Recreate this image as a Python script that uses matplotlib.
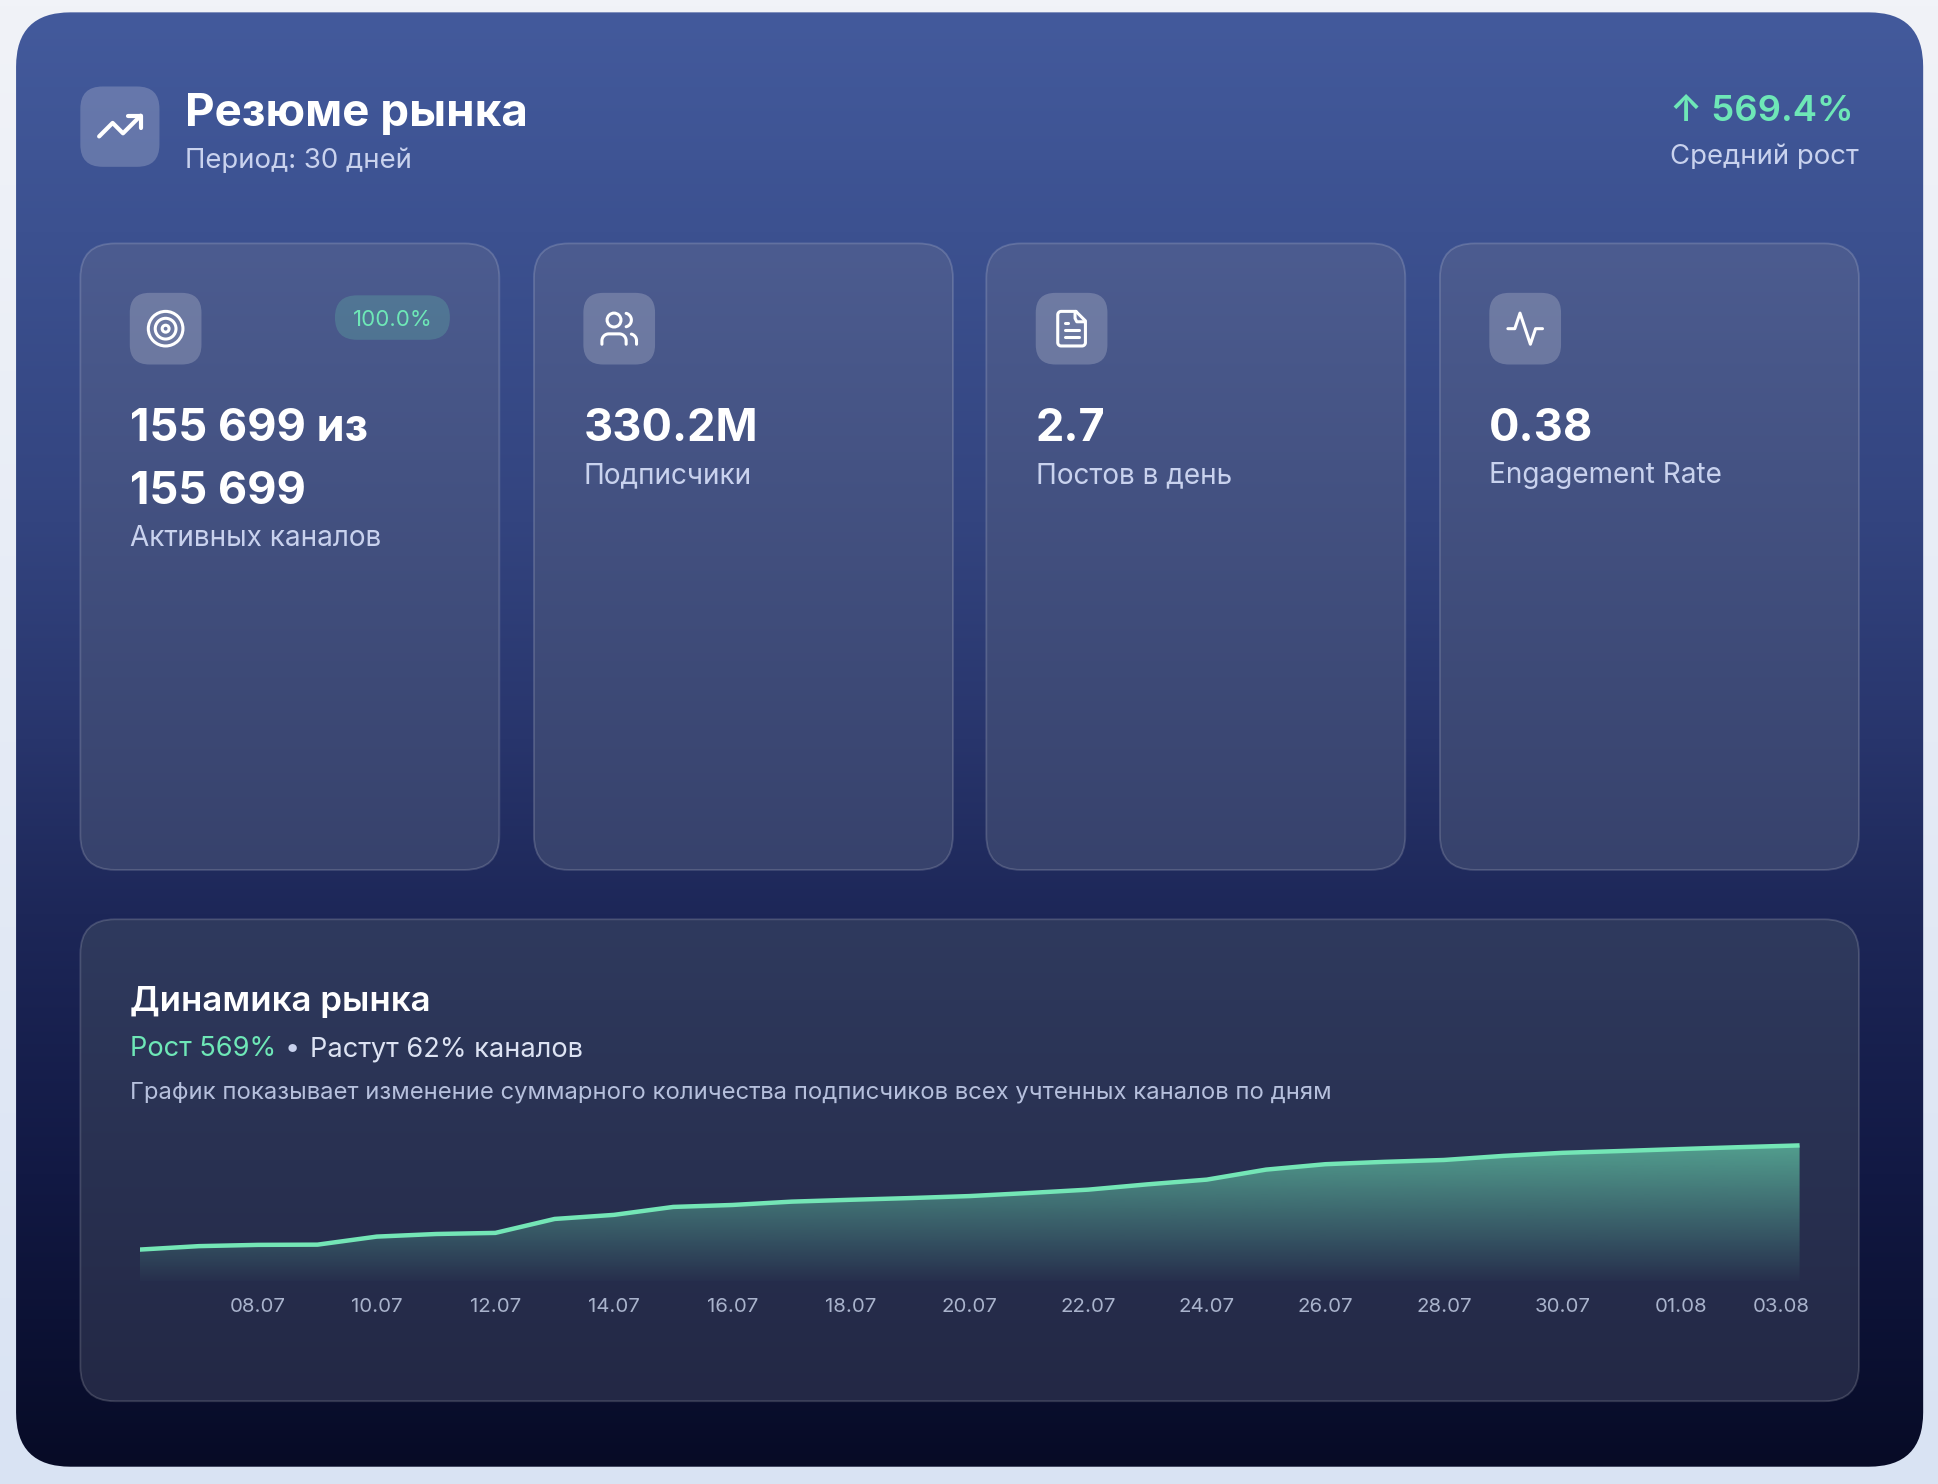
import numpy as np
import matplotlib.pyplot as plt
import matplotlib.colors as mcolors
from matplotlib.patches import FancyBboxPatch, Circle
from matplotlib.transforms import ScaledTranslation

plt.rcParams['font.family'] = ['Inter', 'DejaVu Sans']

# ---- data ----
days = ['06.07', '07.07', '08.07', '09.07', '10.07', '11.07', '12.07', '13.07',
        '14.07', '15.07', '16.07', '17.07', '18.07', '19.07', '20.07', '21.07',
        '22.07', '23.07', '24.07', '25.07', '26.07', '27.07', '28.07', '29.07',
        '30.07', '31.07', '01.08', '02.08', '03.08']
# total subscribers, millions (estimated from the curve)
subscribers_m = [49.3, 58.6, 62.0, 62.6, 84.3, 91.3, 94.3, 131.9, 142.9, 164.3,
                 169.6, 178.6, 183.6, 188.2, 193.6, 201.9, 210.9, 225.2, 237.9,
                 264.9, 279.5, 285.9, 290.9, 301.9, 310.2, 315.2, 320.5, 325.5, 330.2]
tick_days = ['08.07', '10.07', '12.07', '14.07', '16.07', '18.07', '20.07',
             '22.07', '24.07', '26.07', '28.07', '30.07', '01.08', '03.08']

card_values = [['155 699 из', '155 699'], ['330.2M'], ['2.7'], ['0.38']]
card_labels = ['Активных каналов', 'Подписчики', 'Постов в день', 'Engagement Rate']
card_icons = ['target', 'users', 'file', 'activity']
active_share = '100.0%'
avg_growth = '569.4%'
period_days = 30
growth_pct = 569
growing_share = 62

# ---- canvas in reference display units ----
W, H = 1568, 1201
PT = 1.236 * 0.72  # points per display unit

fig = plt.figure(figsize=(19.38, 14.84), dpi=100)
ax = fig.add_axes([0, 0, 1, 1])
ax.axis('off')

GREEN = '#6ee7b7'
LIGHT = '#c9d2ee'


def grad_img(stops, n=256):
    pos = [s[0] for s in stops]
    cols = np.array([mcolors.to_rgba(s[1]) for s in stops])
    t = np.linspace(0, 1, n)
    rgba = np.stack([np.interp(t, pos, cols[:, k]) for k in range(4)], axis=1)
    return rgba[:, None, :]


def rbox(x0, y0, x1, y1, r, **kw):
    p = FancyBboxPatch((x0, y0), x1 - x0, y1 - y0,
                       boxstyle=f'round,pad=0,rounding_size={r}', **kw)
    ax.add_patch(p)
    return p


def grad_box(x0, y0, x1, y1, r, stops, z, edge=None):
    clip = rbox(x0, y0, x1, y1, r, fc='none', ec='none', zorder=z)
    im = ax.imshow(grad_img(stops), extent=(x0, x1, y1, y0), origin='upper',
                   aspect='auto', interpolation='bilinear', zorder=z)
    im.set_clip_path(clip)
    if edge is not None:
        rbox(x0, y0, x1, y1, r, fc='none', ec=edge, lw=1.3, zorder=z + 0.1)


def arc(cx, cy, r, a0, a1, n=30):
    a = np.radians(np.linspace(a0, a1, n))
    return list(zip(cx + r * np.cos(a), cy + r * np.sin(a)))


def stroke(pts, cx, cy, u, lw, z=6):
    p = np.array(pts)
    ax.plot(cx + (p[:, 0] - 12) * u, cy + (p[:, 1] - 12) * u, color='white',
            lw=lw, solid_capstyle='round', solid_joinstyle='round', zorder=z)


def ring(px, py, r, cx, cy, u, lw):
    ax.add_patch(Circle((cx + (px - 12) * u, cy + (py - 12) * u), r * u, fc='none',
                        ec='white', lw=lw, zorder=6))


def draw_icon(kind, cx, cy, u=1.4, lw=2.2):
    if kind == 'target':
        for r in (10, 6, 2):
            ring(12, 12, r, cx, cy, u, lw)
    elif kind == 'users':
        ring(9, 7, 4, cx, cy, u, lw)
        stroke([(16, 21)] + arc(12, 19, 4, 0, -90) + arc(6, 19, 4, -90, -180) + [(2, 21)],
               cx, cy, u, lw)
        stroke([(22, 21)] + arc(18, 19, 4, 0, -75.5), cx, cy, u, lw)
        stroke(arc(15.01, 7.0, 4, -75.7, 75.7), cx, cy, u, lw)
    elif kind == 'file':
        stroke([(14.5, 2)] + arc(6, 4, 2, -90, -180) + arc(6, 20, 2, 180, 90)
               + arc(18, 20, 2, 90, 0) + [(20, 7.5), (14.5, 2)], cx, cy, u, lw)
        stroke([(14, 2.5), (14, 6), (15, 8), (19.5, 8)], cx, cy, u, lw)
        stroke([(8, 9), (10, 9)], cx, cy, u, lw)
        stroke([(8, 13), (16, 13)], cx, cy, u, lw)
        stroke([(8, 17), (16, 17)], cx, cy, u, lw)
    elif kind == 'activity':
        stroke([(2, 12), (6, 12), (9, 3), (15, 21), (18, 12), (22, 12)], cx, cy, u, lw)
    elif kind == 'trend':
        stroke([(2, 17), (8.5, 10.5), (13.5, 15.5), (22, 7)], cx, cy, u, lw)
        stroke([(16, 7), (22, 7), (22, 13)], cx, cy, u, lw)


# page background
bg = ax.imshow(grad_img([(0, '#f1f3f8'), (1, '#d9e3f3')]), extent=(0, W, H, 0),
               origin='upper', aspect='auto', zorder=0)

# main panel
grad_box(13, 10, 1556, 1187, 44,
         [(0, '#435a9c'), (0.15, '#3c5190'), (0.35, '#33447f'), (0.5, '#28356c'),
          (0.62, '#1d2758'), (0.8, '#121944'), (1, '#070b26')], 1)

# header
rbox(65, 70, 129, 135, 18, fc=(1, 1, 1, 0.2), ec='none', zorder=3)
draw_icon('trend', 97, 102, u=1.68, lw=3.0)
ax.text(150, 102, 'Резюме рынка', color='white', fontsize=37 * PT,
        fontweight='bold', va='baseline', zorder=5)
ax.text(150, 136, f'Период: {period_days} дней', color=LIGHT, fontsize=22.3 * PT,
        va='baseline', zorder=5)
ax.text(1500, 98, '↑ ' + avg_growth, color=GREEN, fontsize=29.5 * PT,
        fontweight='semibold', va='baseline', ha='right', zorder=5)
ax.text(1504, 133, 'Средний рост', color=LIGHT, fontsize=22.3 * PT,
        va='baseline', ha='right', zorder=5)

# KPI cards
card_x = [65, 432, 798, 1165]
card_w = 339
for i, x0 in enumerate(card_x):
    grad_box(x0, 197, x0 + card_w, 704, 28,
             [(0, '#4c5c90'), (1, '#37426c')], 2, edge=(1, 1, 1, 0.16))
    rbox(x0 + 40, 237, x0 + 98, 295, 16, fc=(1, 1, 1, 0.2), ec='none', zorder=4)
    draw_icon(card_icons[i], x0 + 69, 266)
    lines = card_values[i]
    for j, s in enumerate(lines):
        ax.text(x0 + 40, 357 + 51 * j, s, color='white', fontsize=36.5 * PT,
                fontweight='bold', va='baseline', zorder=5)
    ax.text(x0 + 40, 391 + 51 * (len(lines) - 1), card_labels[i], color=LIGHT,
            fontsize=22.6 * PT, va='baseline', zorder=5)

# badge on first card
rbox(271, 239, 364, 275, 18, fc=mcolors.to_rgba(GREEN, 0.2), ec='none', zorder=4)
ax.text(317.5, 264, active_share, color=GREEN, fontsize=18 * PT,
        va='baseline', ha='center', zorder=5)

# chart card
grad_box(65, 744, 1504, 1134, 28, [(0, '#2f3a5e'), (1, '#232845')], 2,
         edge=(1, 1, 1, 0.16))
ax.text(105, 818, 'Динамика рынка', color='white', fontsize=28.2 * PT,
        fontweight='semibold', va='baseline', zorder=5)

ren = fig.canvas.get_renderer()
ax.set_xlim(0, W)
ax.set_ylim(H, 0)
t1 = ax.text(105, 855, f'Рост {growth_pct}%', color=GREEN, fontsize=22 * PT,
             va='baseline', zorder=5)
bb = t1.get_window_extent(renderer=ren)
x_end = ax.transData.inverted().transform((bb.x1, bb.y0))[0]
t2 = ax.text(x_end + 7, 855, '•', color=LIGHT, fontsize=22 * PT, va='baseline', zorder=5)
bb = t2.get_window_extent(renderer=ren)
x_end = ax.transData.inverted().transform((bb.x1, bb.y0))[0]
ax.text(x_end + 8, 855, f'Растут {growing_share}% каналов', color='#dde3f3',
        fontsize=22 * PT, va='baseline', zorder=5)
ax.text(105, 889, 'График показывает изменение суммарного количества подписчиков '
        'всех учтенных каналов по дням', color='#b6c0dd', fontsize=19.3 * PT,
        va='baseline', zorder=5)

ax.set_xlim(0, W)
ax.set_ylim(H, 0)

# area chart
x = np.arange(len(days))
v = np.array(subscribers_m)
span = v.max() - v.min()
ylo, yhi = v.min() - 0.305 * span, v.max() + 0.142 * span

cl, cr, cb, ct = 113, 1456, 1037, 915
axc = fig.add_axes([cl / W, 1 - cb / H, (cr - cl) / W, (cb - ct) / H])
axc.set_facecolor('none')
axc.set_xlim(x[0], x[-1])
axc.set_ylim(ylo, yhi)
for s in axc.spines.values():
    s.set_visible(False)
axc.set_yticks([])

poly = axc.fill_between(x, v, ylo, color='none', lw=0)
alpha = np.linspace(0.02, 0.6, 256)
fill = np.zeros((256, 1, 4))
fill[:, 0, :3] = mcolors.to_rgb(GREEN)
fill[:, 0, 3] = alpha
im = axc.imshow(fill, extent=(x[0], x[-1], ylo, v.max()), origin='lower',
                aspect='auto', interpolation='bilinear', zorder=1)
im.set_clip_path(poly.get_paths()[0], axc.transData)
axc.plot(x, v, color='#74e6b6', lw=3.2, solid_capstyle='butt',
         solid_joinstyle='round', zorder=3)
axc.set_xlim(x[0], x[-1])
axc.set_ylim(ylo, yhi)

tick_pos = [days.index(d) for d in tick_days]
axc.set_xticks(tick_pos)
axc.set_xticklabels(tick_days, fontsize=16.5 * PT, color='#a9b3cc')
axc.tick_params(axis='x', length=0, pad=12)
last = axc.get_xticklabels()[-1]
last.set_transform(last.get_transform() + ScaledTranslation(-0.185, 0, fig.dpi_scale_trans))

fig.savefig('out.png', dpi=100)
